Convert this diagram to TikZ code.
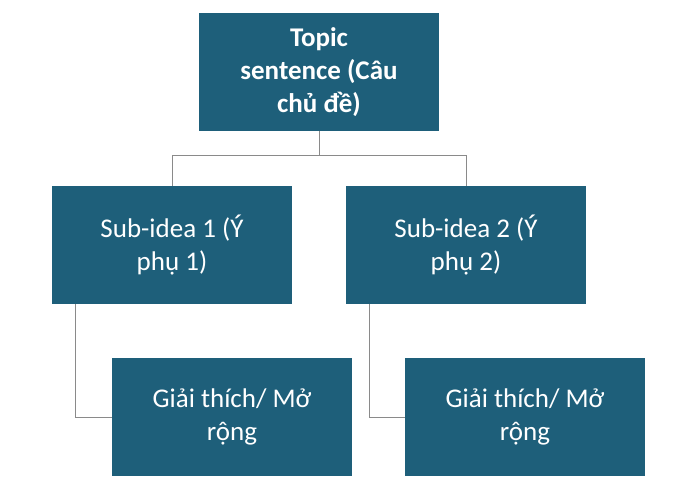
\documentclass[tikz,border=0pt]{standalone}
\usepackage{fontspec}
\setmainfont{Carlito}
\usetikzlibrary{positioning, calc}
\definecolor{boxteal}{HTML}{1E5F7A}
\definecolor{linegray}{HTML}{8A8A8A}
\begin{document}
\begin{tikzpicture}[x=1pt,y=-1pt,
    box/.style={fill=boxteal, text=white, minimum width=240pt, minimum height=118pt,
        align=center, font=\fontsize{27}{33}\selectfont, inner sep=0pt},
    link/.style={draw=linegray, line width=1pt}]
    \useasboundingbox (0,0) rectangle (700,487);

    \node[box, font=\bfseries\fontsize{27}{33}\selectfont] (topic) at (319,72) {Topic\\sentence (Câu\\chủ đề)};
    \node[box] (subA) at (172,245) {Sub-idea 1 (Ý\\phụ 1)};
    \node[box] (subB) at (466,245) {Sub-idea 2 (Ý\\phụ 2)};
    \node[box] (expA) at (232,417) {Giải thích/ Mở\\rộng};
    \node[box] (expB) at (525,417) {Giải thích/ Mở\\rộng};

    % tree links
    \coordinate (fork) at ($(topic.south)+(0,24)$);
    \draw[link] (topic.south) -- (fork);
    \draw[link] (subA.north) |- (fork) -| (subB.north);
    \draw[link] ([xshift=24pt]subA.south west) |- (expA.west);
    \draw[link] ([xshift=24pt]subB.south west) |- (expB.west);
\end{tikzpicture}
\end{document}
